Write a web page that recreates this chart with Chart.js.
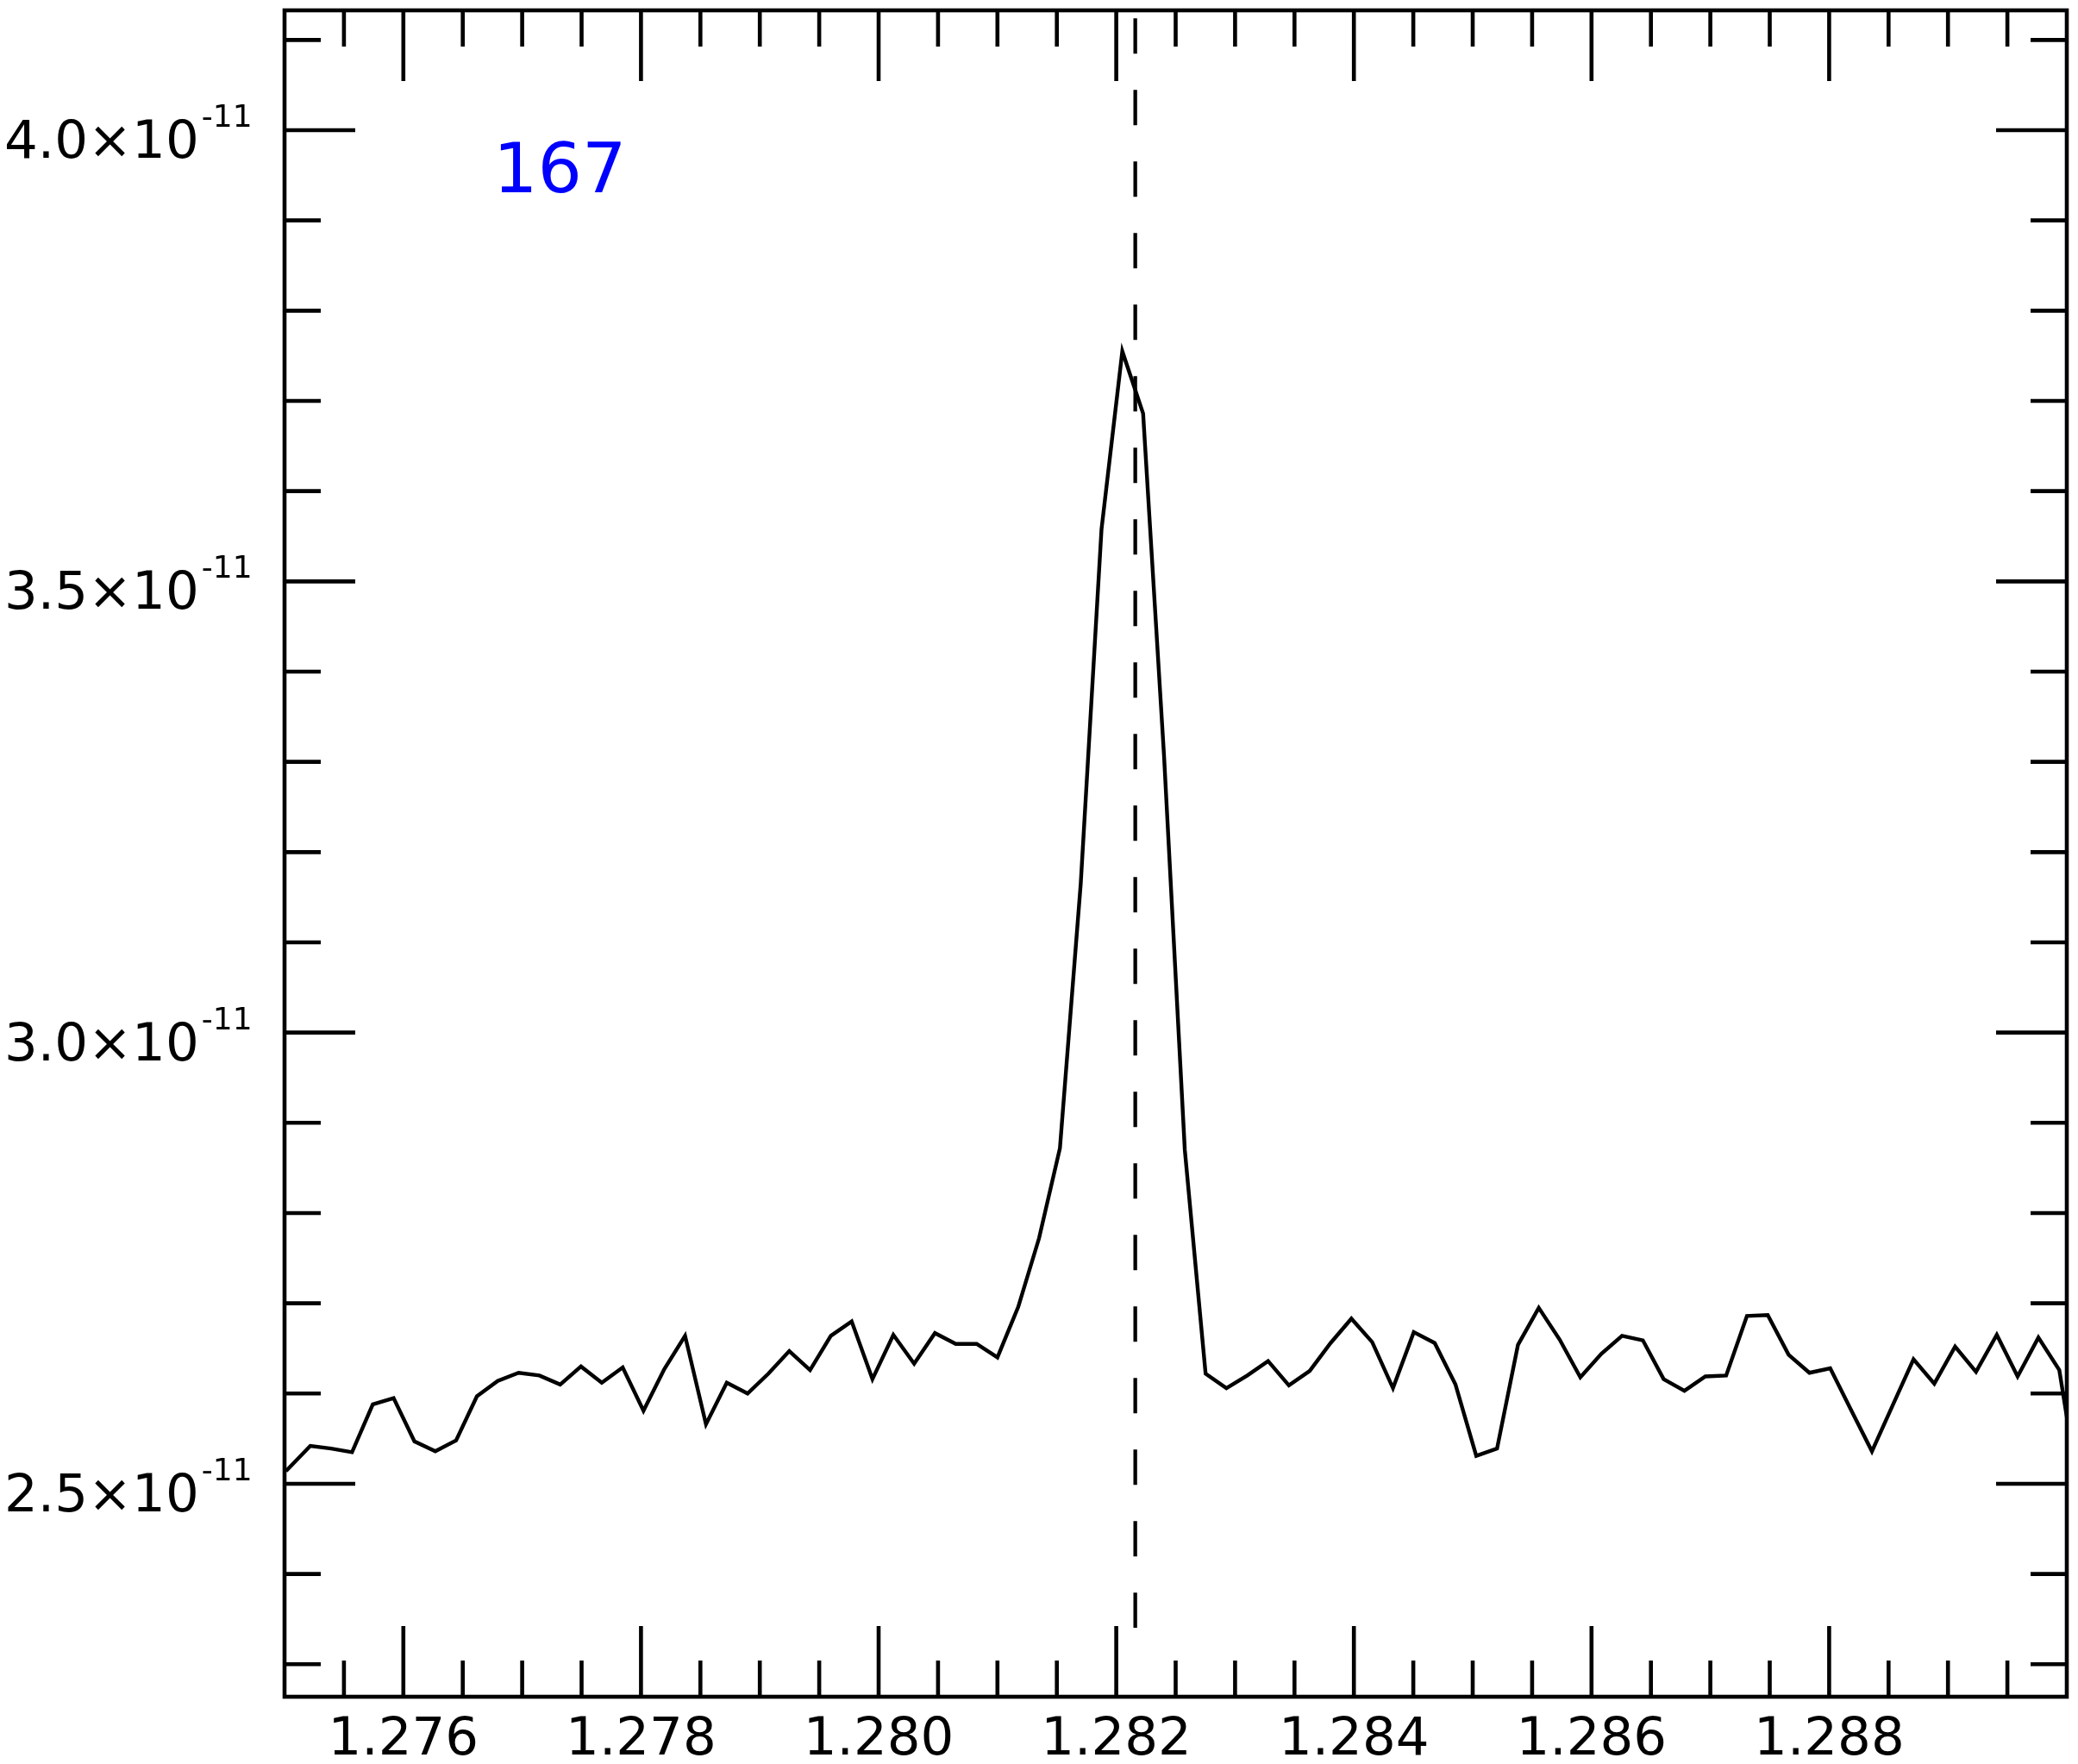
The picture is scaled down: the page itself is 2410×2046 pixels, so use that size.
<!DOCTYPE html>
<html>
<head>
<meta charset="utf-8">
<title>167</title>
<script src="https://cdn.jsdelivr.net/npm/chart.js@4.4.0/dist/chart.umd.min.js"></script>
<style>
  html, body { margin: 0; padding: 0; background: #fff; }
  #wrap { width: 2410px; height: 2046px; }
</style>
</head>
<body>
<div id="wrap"><canvas id="spec" width="2410" height="2046"></canvas></div>
<script>
// wavelength grid (micron)
const wavelength = [
  1.275012, 1.275217, 1.275392, 1.275568, 1.275743, 1.275918, 1.276093, 1.276269, 1.276444, 1.276619,
  1.276794, 1.276970, 1.277145, 1.277320, 1.277495, 1.277670, 1.277846, 1.278021, 1.278196, 1.278371,
  1.278547, 1.278722, 1.278897, 1.279072, 1.279248, 1.279423, 1.279598, 1.279773, 1.279948, 1.280124,
  1.280299, 1.280474, 1.280649, 1.280825, 1.281000, 1.281175, 1.281350, 1.281526, 1.281701, 1.281876,
  1.282051, 1.282226, 1.282402, 1.282577, 1.282752, 1.282927, 1.283103, 1.283278, 1.283453, 1.283628,
  1.283804, 1.283979, 1.284154, 1.284329, 1.284504, 1.284680, 1.284855, 1.285030, 1.285205, 1.285381,
  1.285556, 1.285731, 1.285906, 1.286082, 1.286257, 1.286432, 1.286607, 1.286782, 1.286958, 1.287133,
  1.287308, 1.287483, 1.287659, 1.287834, 1.288009, 1.288184, 1.288360, 1.288535, 1.288710, 1.288885,
  1.289060, 1.289236, 1.289411, 1.289586, 1.289761, 1.289937, 1.290112
];

// flux in units of 1e-11
const flux = [
  2.514, 2.542, 2.539, 2.535, 2.588, 2.595, 2.547, 2.536, 2.548, 2.597,
  2.614, 2.623, 2.620, 2.610, 2.630, 2.612, 2.629, 2.581, 2.627, 2.664,
  2.566, 2.612, 2.600, 2.622, 2.647, 2.626, 2.664, 2.680, 2.616, 2.665,
  2.633, 2.667, 2.655, 2.655, 2.640, 2.696, 2.772, 2.872, 3.165, 3.558,
  3.755, 3.686, 3.307, 2.870, 2.622, 2.606, 2.620, 2.636, 2.609, 2.625,
  2.656, 2.683, 2.657, 2.606, 2.668, 2.656, 2.610, 2.531, 2.539, 2.654,
  2.695, 2.660, 2.618, 2.644, 2.664, 2.659, 2.616, 2.603, 2.619, 2.620,
  2.686, 2.687, 2.643, 2.623, 2.628, 2.582, 2.536, 2.587, 2.638, 2.611,
  2.652, 2.624, 2.665, 2.619, 2.662, 2.626, 2.482
];

const lineCenter = 1.28216;
const markerTop = 4.124;
const markerBottom = 2.3405;

const xMin = 1.275, xMax = 1.290;
const yMin = 2.264, yMax = 4.1328;

const xTickValues = [1.276, 1.278, 1.280, 1.282, 1.284, 1.286, 1.288];
const xTickLabels = ['1.276', '1.278', '1.280', '1.282', '1.284', '1.286', '1.288'];
const yTickValues = [2.5, 3.0, 3.5, 4.0];
const yTickLabels = ['2.5', '3.0', '3.5', '4.0'];
const yExponent = '-11';
const panelLabel = '167';

const FONT = '"DejaVu Sans", "Liberation Sans", sans-serif';

// frame, inward ticks and labels
const framePlugin = {
    id: 'frame',
    afterDraw(chart) {
        const ctx = chart.ctx;
        const { left, right, top, bottom } = chart.chartArea;
        const xs = chart.scales.x;
        const ys = chart.scales.y;
        const major = 82, minor = 42;

        ctx.save();
        ctx.strokeStyle = '#000';
        ctx.lineWidth = 4.6;
        ctx.lineCap = 'butt';
        ctx.strokeRect(left, top, right - left, bottom - top);

        ctx.beginPath();
        // x minor ticks every 0.0005, major every 0.002
        for (let i = 1; i < 30; i++) {
            const v = 1.275 + i * 0.0005;
            const px = xs.getPixelForValue(v);
            const len = (i % 4 === 2) ? major : minor;
            ctx.moveTo(px, bottom); ctx.lineTo(px, bottom - len);
            ctx.moveTo(px, top); ctx.lineTo(px, top + len);
        }
        // y minor ticks every 0.1, major every 0.5
        for (let i = 23; i <= 41; i++) {
            const py = ys.getPixelForValue(i / 10);
            const len = (i % 5 === 0) ? major : minor;
            ctx.moveTo(left, py); ctx.lineTo(left + len, py);
            ctx.moveTo(right, py); ctx.lineTo(right - len, py);
        }
        ctx.stroke();

        ctx.fillStyle = '#000';
        ctx.font = '61px ' + FONT;
        ctx.textAlign = 'center';
        ctx.textBaseline = 'alphabetic';
        xTickValues.forEach((v, i) => {
            ctx.fillText(xTickLabels[i], xs.getPixelForValue(v), 2035);
        });

        ctx.textAlign = 'left';
        yTickValues.forEach((v, i) => {
            const py = ys.getPixelForValue(v);
            const main = yTickLabels[i] + '\u00d710';
            ctx.font = '61px ' + FONT;
            ctx.fillText(main, 5, py + 32);
            const w = ctx.measureText(main).width;
            ctx.font = '36px ' + FONT;
            ctx.fillText(yExponent, 5 + w + 3, py - 4);
        });

        ctx.fillStyle = '#0000ff';
        ctx.font = '81px ' + FONT;
        ctx.fillText(panelLabel, 572, 223);
        ctx.restore();
    }
};

new Chart(document.getElementById('spec'), {
    type: 'scatter',
    data: {
        datasets: [
            {
                data: wavelength.map((w, i) => ({ x: w, y: flux[i] })),
                showLine: true,
                borderColor: '#000',
                borderWidth: 4.4,
                pointRadius: 0,
                tension: 0,
                clip: 0
            },
            {
                data: [{ x: lineCenter, y: markerTop }, { x: lineCenter, y: markerBottom }],
                showLine: true,
                borderColor: '#000',
                borderWidth: 4.3,
                borderDash: [41, 42],
                pointRadius: 0
            }
        ]
    },
    options: {
        responsive: false,
        animation: false,
        devicePixelRatio: 1,
        layout: { padding: { left: 330, right: 13, top: 12, bottom: 78 } },
        plugins: { legend: { display: false }, tooltip: { enabled: false } },
        scales: {
            x: { type: 'linear', min: xMin, max: xMax, display: false },
            y: { type: 'linear', min: yMin, max: yMax, display: false }
        }
    },
    plugins: [framePlugin]
});
</script>
</body>
</html>
